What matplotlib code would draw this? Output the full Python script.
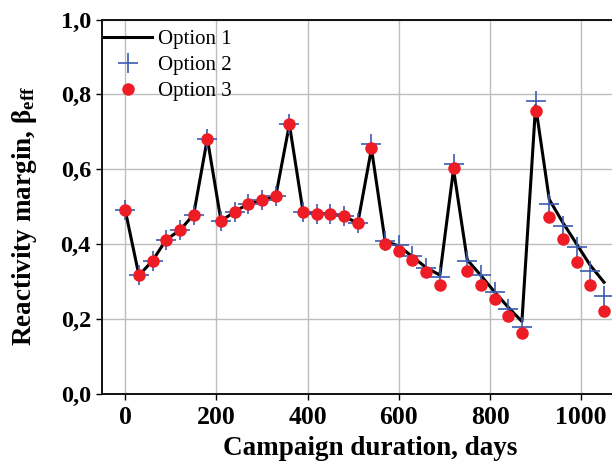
import numpy as np
import matplotlib
matplotlib.use("Agg")
import matplotlib.pyplot as plt

# campaign days, one point every 30 days
days = list(range(0, 1051, 30))

option1 = [0.49, 0.316, 0.356, 0.412, 0.437, 0.479, 0.682, 0.462, 0.486, 0.508,
           0.517, 0.528, 0.720, 0.486, 0.481, 0.481, 0.474, 0.456, 0.655, 0.407,
           0.395, 0.366, 0.337, 0.317, 0.600, 0.358, 0.316, 0.272, 0.231, 0.193,
           0.770, 0.519, 0.457, 0.400, 0.343, 0.298]
option2 = [0.49, 0.316, 0.356, 0.412, 0.437, 0.479, 0.682, 0.462, 0.486, 0.508,
           0.517, 0.528, 0.720, 0.486, 0.481, 0.481, 0.474, 0.456, 0.667, 0.407,
           0.397, 0.367, 0.336, 0.312, 0.614, 0.356, 0.316, 0.271, 0.227, 0.177,
           0.782, 0.507, 0.449, 0.391, 0.329, 0.262]
option3 = [0.49, 0.316, 0.356, 0.412, 0.437, 0.479, 0.682, 0.462, 0.486, 0.508,
           0.517, 0.528, 0.720, 0.486, 0.481, 0.481, 0.474, 0.456, 0.657, 0.401,
           0.382, 0.357, 0.326, 0.291, 0.602, 0.327, 0.291, 0.253, 0.207, 0.162,
           0.757, 0.471, 0.414, 0.353, 0.291, 0.222]

plt.rcParams['font.family'] = ['Liberation Serif', 'DejaVu Serif']
plt.rcParams['mathtext.fontset'] = 'custom'
plt.rcParams['mathtext.rm'] = 'Liberation Serif'
plt.rcParams['mathtext.bf'] = 'Liberation Serif:bold'

fig = plt.figure(figsize=(6.12, 4.67), dpi=100)
ax = fig.add_axes([0.1667, 0.157, 0.85, 0.801])

ax.plot(days, option1, color='black', lw=2.2, label='Option 1', zorder=3)
ax.plot(days, option2, ls='none', marker='+', ms=14, mew=1.2, color='#3b5bb0',
        label='Option 2', zorder=4)
ax.plot(days, option3, ls='none', marker='o', ms=8, color='#ee1c25',
        mec='#ee1c25', label='Option 3', zorder=5)

ax.set_xlim(-51, 1090)
ax.set_ylim(0, 1.0)
ax.set_xticks([0, 200, 400, 600, 800, 1000])
ax.set_yticks(np.arange(0, 1.01, 0.2))
ax.set_yticklabels(['0,0', '0,2', '0,4', '0,6', '0,8', '1,0'])
ax.grid(True, color='#bdbdbd', lw=1.0)
ax.set_axisbelow(True)

ax.spines['right'].set_visible(False)
for s in ['left', 'bottom', 'top']:
    ax.spines[s].set_linewidth(1.4)
    ax.spines[s].set_color('#111111')

ax.tick_params(direction='out', length=4, width=1.0, pad=4)
ax.tick_params(axis='x', labelsize=18.5, pad=5)
ax.tick_params(axis='y', labelsize=17.5)
for lab in ax.get_xticklabels() + ax.get_yticklabels():
    lab.set_fontweight('bold')

ax.set_xlabel('Campaign duration, days', fontsize=19.5, fontweight='bold')
ax.xaxis.set_label_coords(0.515, -0.113)
ax.set_ylabel(r'Reactivity margin, $\mathbf{\beta_{eff}}$', fontsize=19.5,
              fontweight='bold')
ax.yaxis.set_label_coords(-0.122, 0.476)

leg = ax.legend(loc='upper left', bbox_to_anchor=(-0.004, 0.984), frameon=False,
                fontsize=15, handlelength=2.3, handletextpad=0.3,
                labelspacing=0.3, borderaxespad=0.0, borderpad=0.2)

fig.savefig('out.png', dpi=100)
